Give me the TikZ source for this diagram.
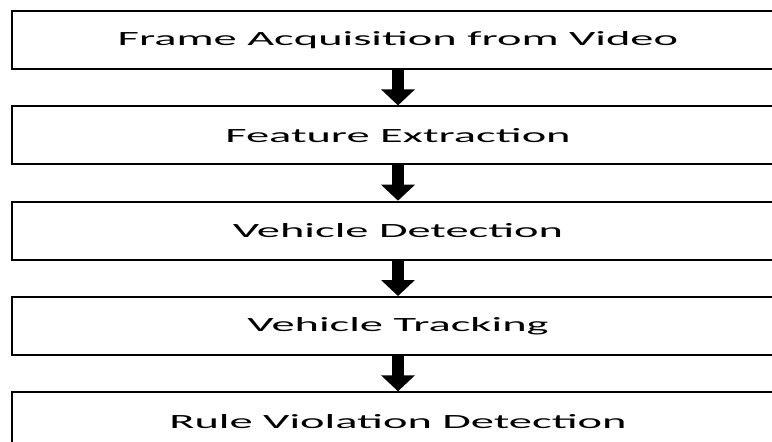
\documentclass[tikz,border=0pt]{standalone}
\usepackage{fontspec}
\setmainfont[FakeStretch=2.3]{Carlito}
\usetikzlibrary{positioning,arrows.meta}

\begin{document}
\begin{tikzpicture}[auto, node distance=17.75pt,
    stage/.style={draw, rectangle, line width=0.9pt, minimum width=386pt, minimum height=29pt, inner sep=0pt, font=\fontsize{10.1}{12}\selectfont},
    flow/.style={line width=6pt, -{Triangle[width=16.5pt,length=8pt]}}]
    \useasboundingbox (0,0) rectangle (386pt,-220.5pt);

    \node [stage] (FA) at (199pt,-20pt) {Frame Acquisition from Video};
    \node [stage, below=of FA] (FE) {Feature Extraction};
    \node [stage, below=of FE] (VD) {Vehicle Detection};
    \node [stage, below=of VD] (VT) {Vehicle Tracking};
    \node [stage, below=of VT] (RV) {Rule Violation Detection};

    \draw [flow] (FA) -- (FE);
    \draw [flow] (FE) -- (VD);
    \draw [flow] (VD) -- (VT);
    \draw [flow] (VT) -- (RV);

\end{tikzpicture}
\end{document}
